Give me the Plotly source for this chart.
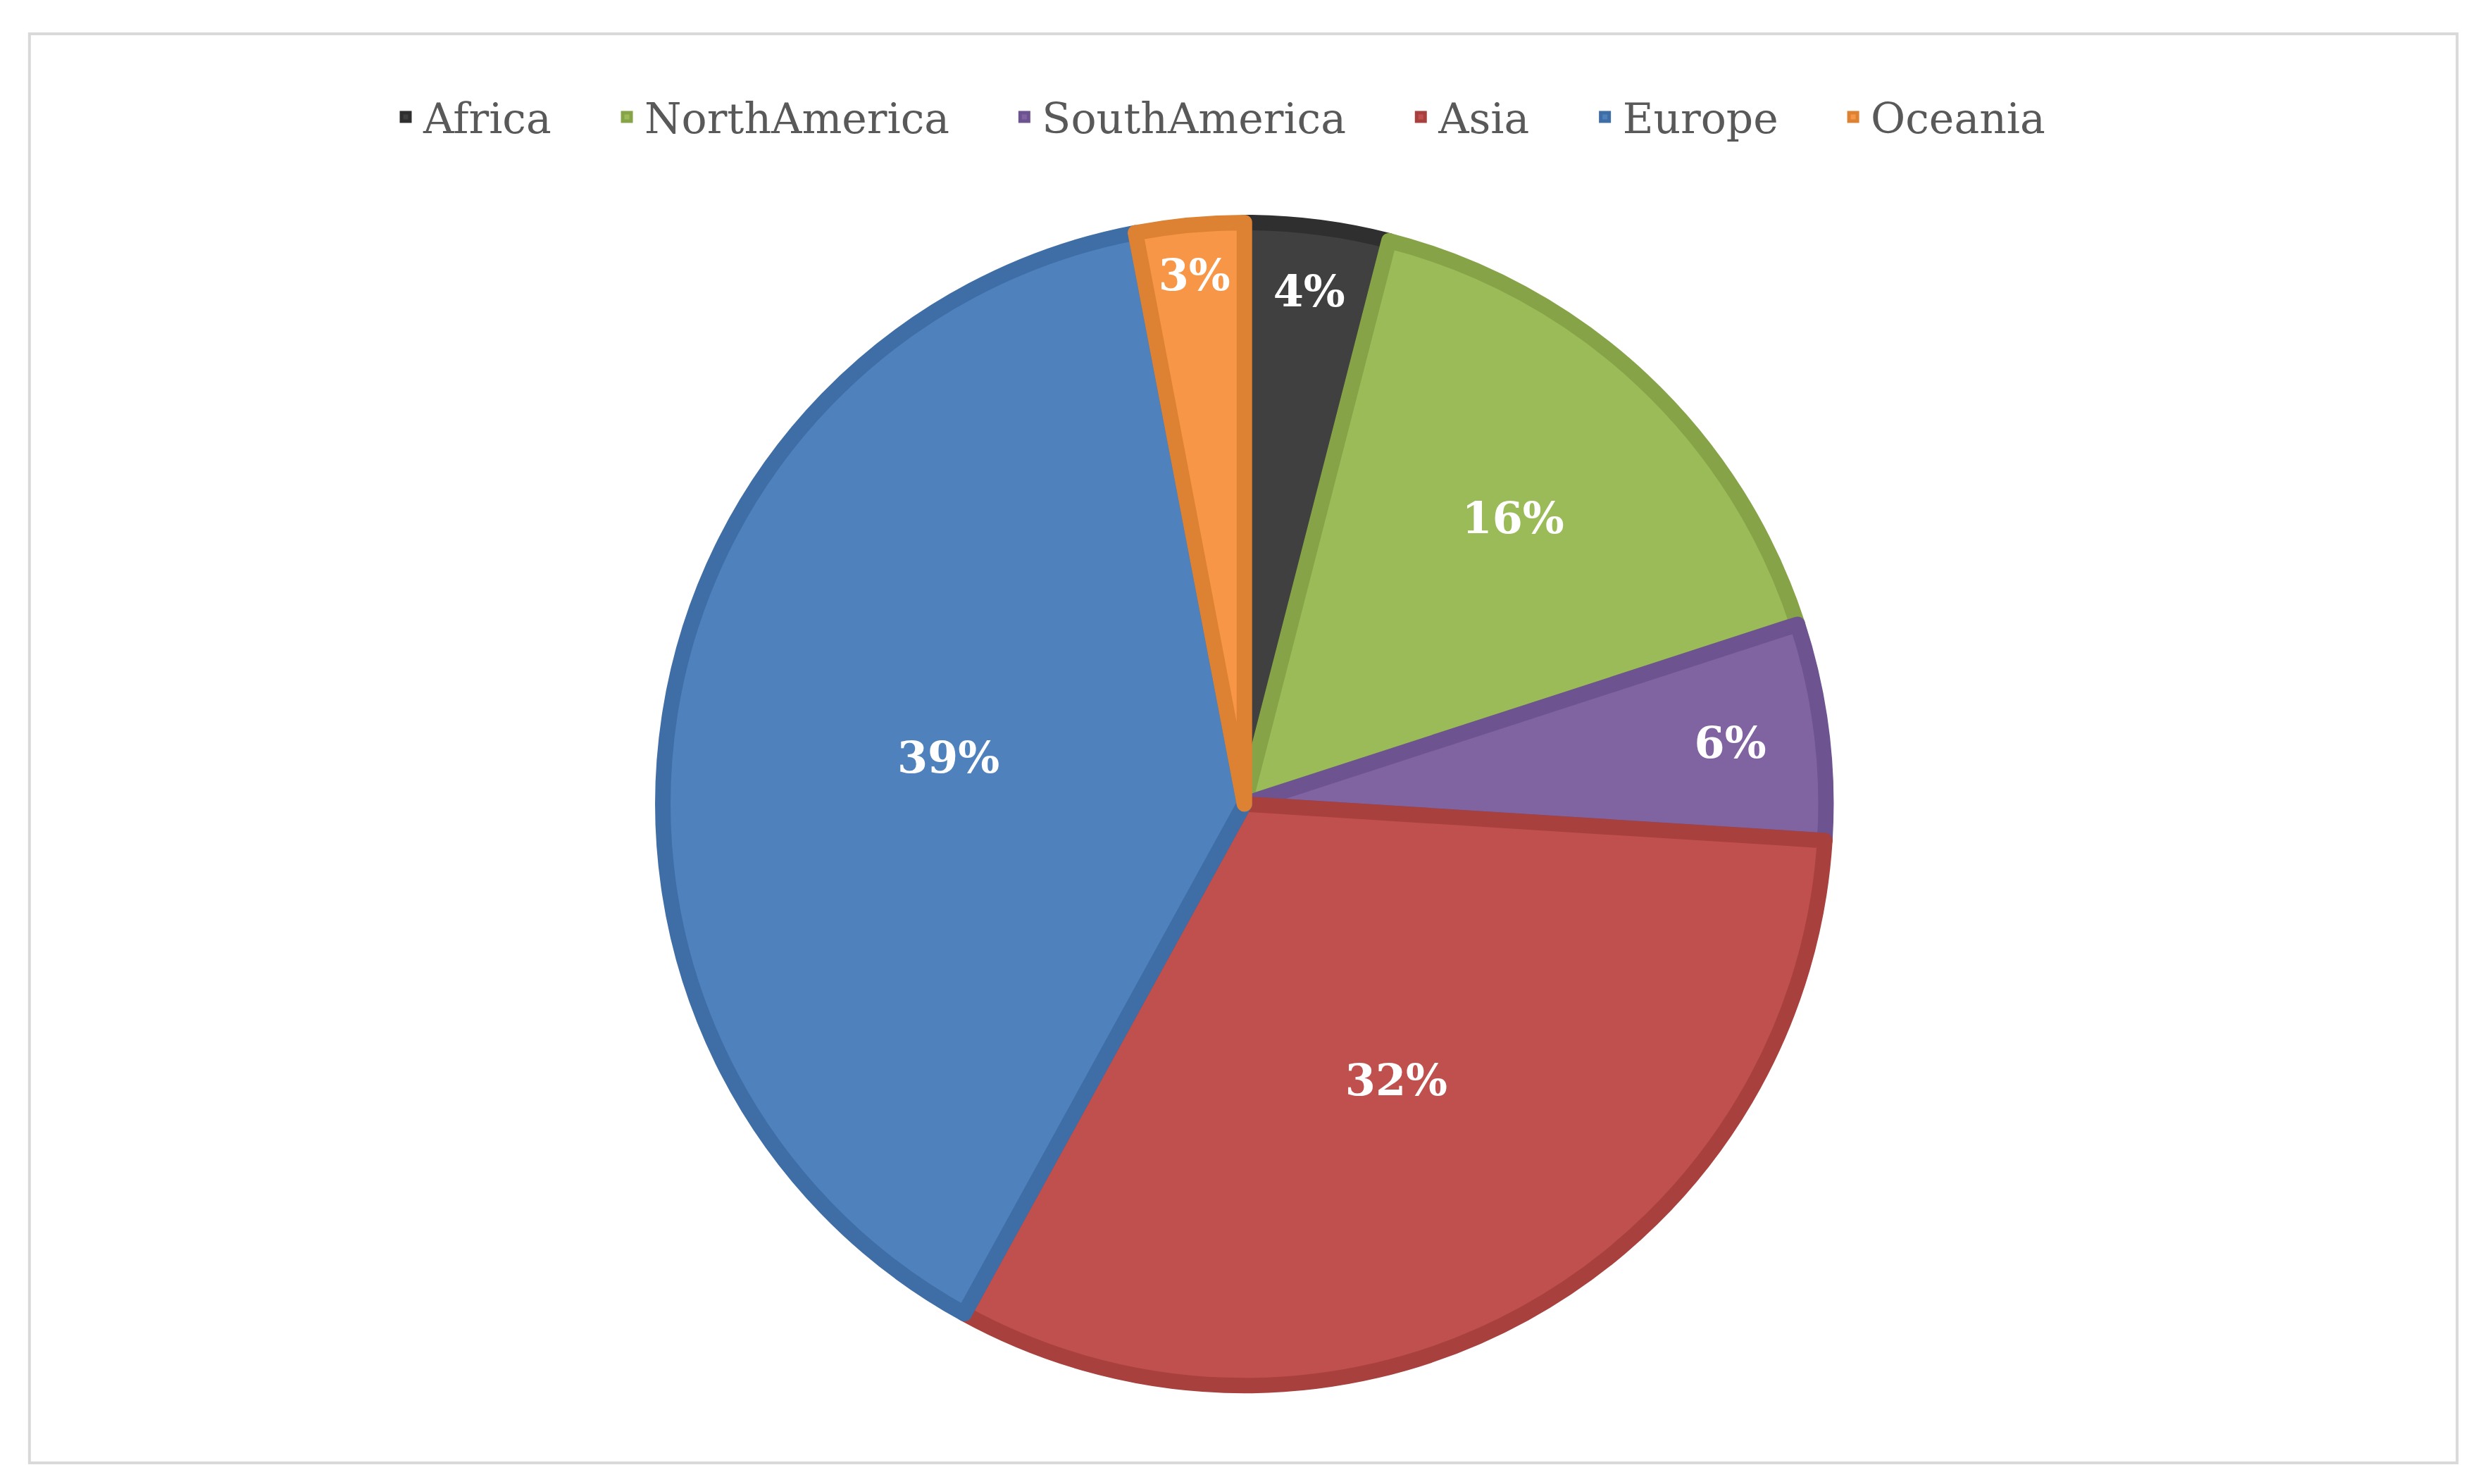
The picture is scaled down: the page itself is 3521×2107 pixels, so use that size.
import plotly.graph_objects as go

labels = ["Africa", "NorthAmerica", "SouthAmerica", "Asia", "Europe", "Oceania"]
values = [4, 16, 6, 32, 39, 3]
colors = ["#404040", "#9BBB59", "#8064A2", "#C0504D", "#4F81BD", "#F79646"]
edge_colors = ["#2f2f2f", "#86a447", "#6d5390", "#a8413e", "#3f6ea6", "#dd8233"]

pad = "\u00a0" * 4
fig = go.Figure(go.Pie(
    labels=[l + pad for l in labels], values=values, sort=False, direction="clockwise", rotation=0,
    marker=dict(colors=colors, line=dict(color=edge_colors, width=22)),
    texttemplate="%{percent:.0%}", textposition="inside", insidetextorientation="horizontal",
    textfont=dict(family="DejaVu Serif", size=62, color="white", weight="bold"),
    domain=dict(x=[0.265, 0.734], y=[0.07, 0.854]),
))
fig.update_layout(
    width=3521, height=2107, margin=dict(l=0, r=0, t=0, b=0),
    paper_bgcolor="white", font=dict(family="DejaVu Serif", color="#595959"),
    legend=dict(orientation="h", x=0.5, xanchor="center", y=0.925, yanchor="middle",
                font=dict(size=60, color="#595959"), itemwidth=40),
    shapes=[dict(type="rect", xref="paper", yref="paper", x0=0.0096, x1=0.9885,
                 y0=0.018, y1=0.981, line=dict(color="#d9d9d9", width=4))],
)
fig.write_html("out.html")
